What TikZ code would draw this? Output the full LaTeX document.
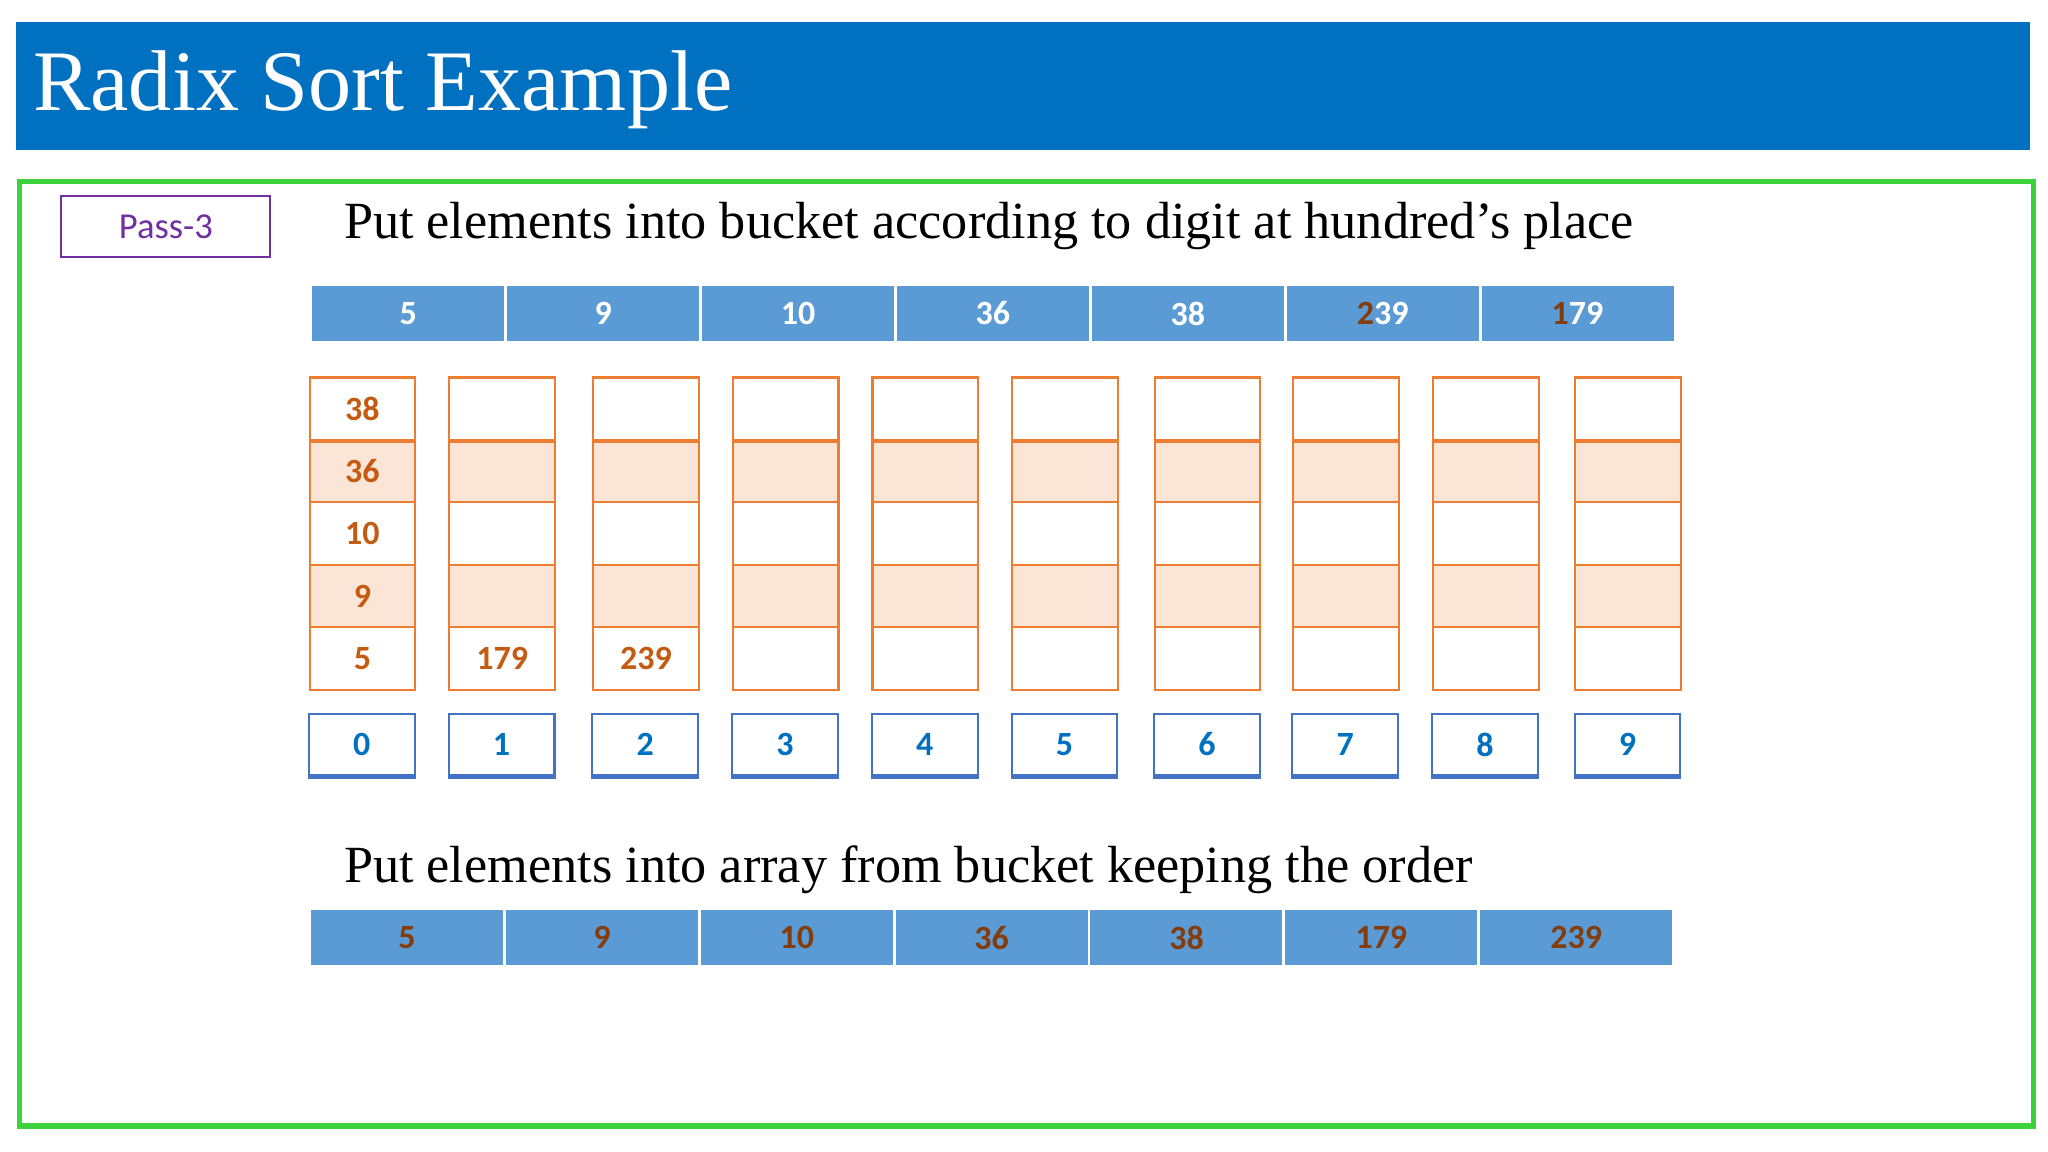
\documentclass[tikz,border=0pt]{standalone}
\usepackage{fontspec}
\setmainfont{Liberation Serif}
\newfontfamily\carl{Carlito}
\definecolor{titleblue}{HTML}{0070C0}
\definecolor{cellblue}{HTML}{5B9BD5}
\definecolor{frgreen}{HTML}{3CD23C}
\definecolor{purp}{HTML}{7030A0}
\definecolor{orng}{HTML}{ED7D31}
\definecolor{peach}{HTML}{FBE5D6}
\definecolor{otext}{HTML}{C55A11}
\definecolor{brn}{HTML}{843C0C}
\definecolor{idxline}{HTML}{4472C4}
\tikzset{
 arrcell/.style={draw=white,line width=1pt,fill=cellblue,minimum width=74.5pt,minimum height=22pt,inner sep=0pt,font=\carl\fontsize{13}{13}\selectfont\bfseries,text=white},
 bcell/.style={draw=orng,line width=0.8pt,minimum width=40.5pt,minimum height=24pt,inner sep=0pt,font=\carl\fontsize{13}{13}\selectfont\bfseries,text=otext},
 idxcell/.style={draw=idxline,line width=0.8pt,minimum width=40.5pt,minimum height=23.5pt,inner sep=0pt,font=\carl\fontsize{13}{13}\selectfont\bfseries,text=titleblue},
 btext/.style={text=otext,font=\carl\fontsize{13}{13}\selectfont\bfseries},
 heading/.style={anchor=west,inner sep=0pt,font=\fontsize{20}{20}\selectfont}
}
\begin{document}
\begin{tikzpicture}[x=0.5pt,y=-0.5pt]
\useasboundingbox (0,0) rectangle (1568,882);
\fill[white] (0,0) rectangle (1568,882);
\fill[titleblue] (12,17) rectangle (1554,115);
\node[anchor=west,inner sep=0pt,text=white,font=\fontsize{33}{33}\selectfont] (title) at (25,69) {Radix Sort Example};
\draw[frgreen,line width=2pt] (15,139) rectangle (1557,862);
\node[draw=purp,line width=0.7pt,minimum width=80pt,minimum height=23.5pt,inner sep=0pt,text=purp,font=\carl\fontsize{14}{14}\selectfont] (pass) at (127,173.5) {Pass-3};
\node[heading] (h1) at (263,173) {Put elements into bucket according to digit at hundred’s place};
\foreach \v [count=\i from 0] in {5,9,10,36,38,{\textcolor{brn}{2}39},{\textcolor{brn}{1}79}}
  \node[arrcell] (a\i) at (238+74.6+\i*149.2,240) {\v};
\foreach \bx [count=\k from 0] in {237,344,454,561,668,775,884,990,1097,1206}{
  \foreach \r in {0,...,4}{
    \pgfmathtruncatemacro\odd{mod(\r,2)}
    \ifnum\odd=1
      \node[bcell,fill=peach] (b\k r\r) at (\bx+40.5,313+\r*47.8) {};
    \else
      \node[bcell,fill=white] (b\k r\r) at (\bx+40.5,313+\r*47.8) {};
    \fi
  }
  \draw[orng,line width=1.6pt] (b\k r0.south west) -- (b\k r0.south east);
  \node[idxcell] (i\k) at (\bx+40,570) {\k};
  \draw[idxline,line width=2pt] (i\k.south west) -- (i\k.south east);
}
\node[btext] (v38) at (b0r0) {38};
\node[btext] (v36) at (b0r1) {36};
\node[btext] (v10) at (b0r2) {10};
\node[btext] (v9) at (b0r3) {9};
\node[btext] (v5) at (b0r4) {5};
\node[btext] (v179) at (b1r4) {179};
\node[btext] (v239) at (b2r4) {239};
\node[heading] (h2) at (263,666) {Put elements into array from bucket keeping the order};
\foreach \v [count=\i from 0] in {5,9,10,36,38,179,239}
  \node[arrcell,text=brn] (c\i) at (237+74.6+\i*149.2,718) {\v};
\end{tikzpicture}
\end{document}
